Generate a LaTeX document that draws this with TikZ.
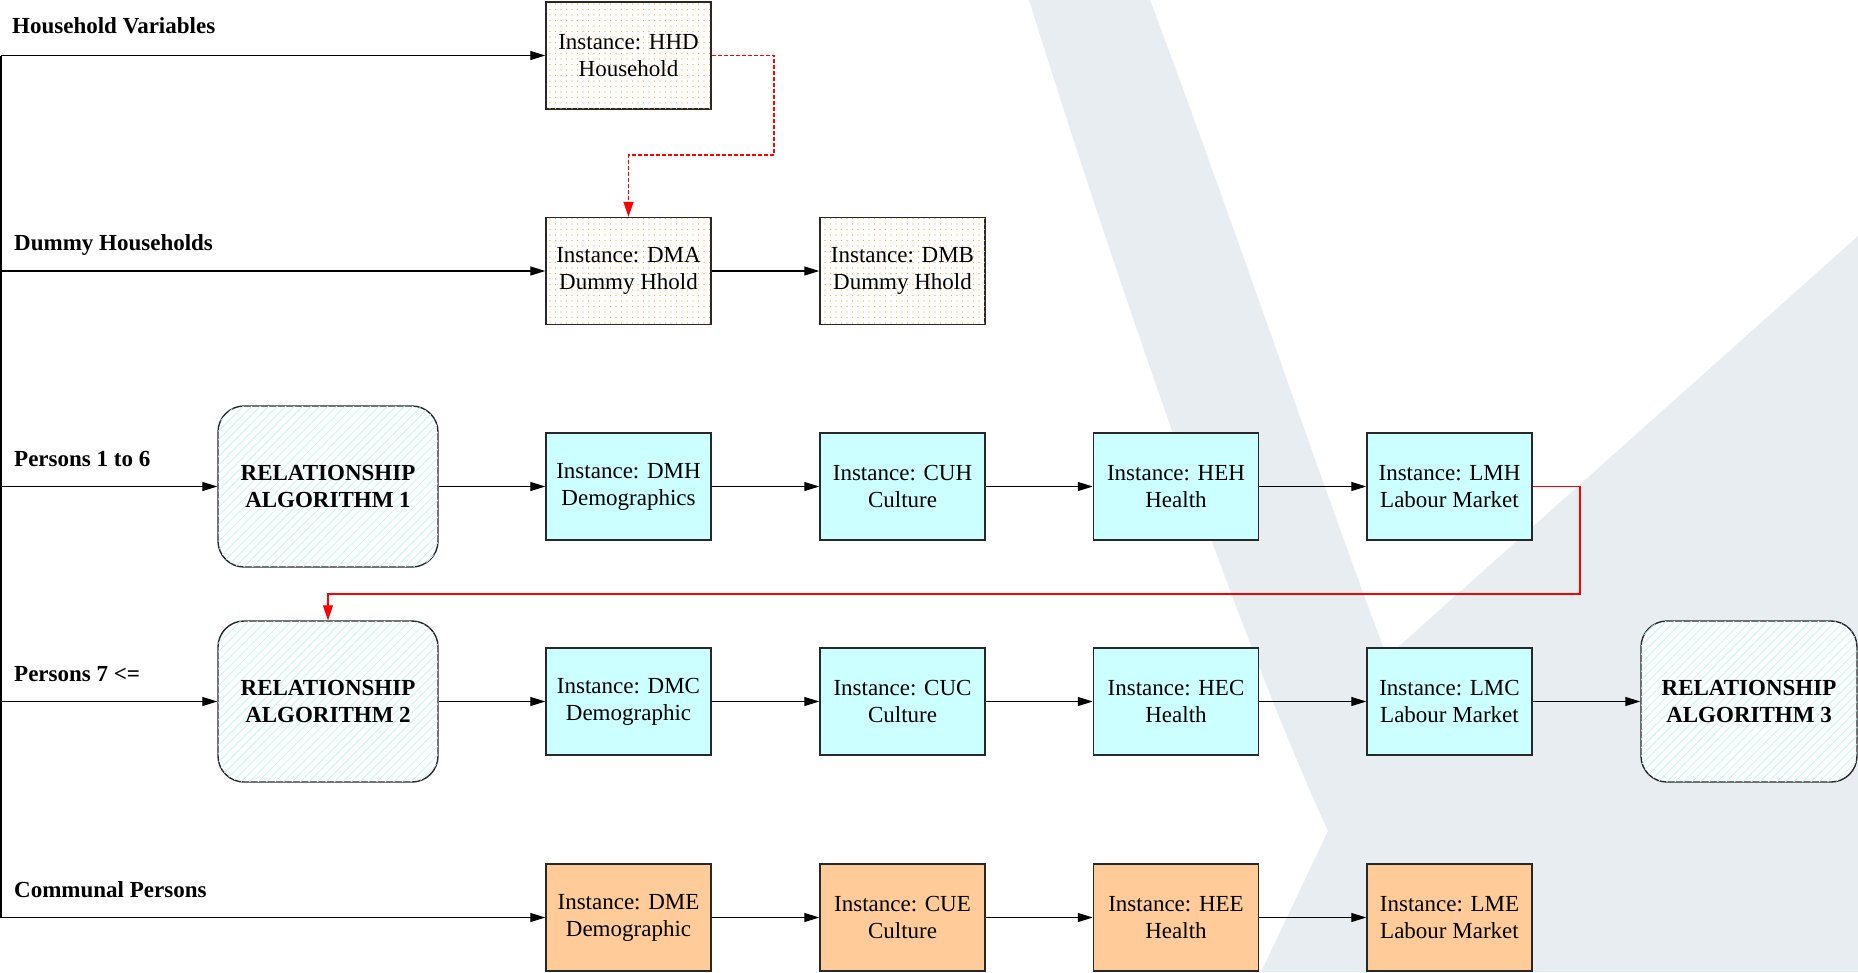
\documentclass[tikz,border=0pt]{standalone}
\usepackage{fontspec}
\setmainfont{Liberation Serif}
\usetikzlibrary{arrows.meta,patterns.meta}
\definecolor{wm}{RGB}{232,237,242}
\definecolor{boxcyan}{RGB}{204,255,255}
\definecolor{boxorange}{RGB}{255,204,153}
\definecolor{dotorange}{RGB}{252,165,30}
\definecolor{hatchcyan}{RGB}{195,246,246}
\definecolor{edgegray}{RGB}{40,40,40}
\begin{document}
\begin{tikzpicture}[x=1pt,y=-1pt,
  inst/.style={draw=edgegray, line width=1.4pt, minimum width=165pt, minimum height=107pt,
    inner sep=0pt, align=center, font=\fontsize{23}{27}\selectfont},
  cyanbox/.style={inst, fill=boxcyan},
  orangebox/.style={inst, fill=boxorange},
  dotbox/.style={inst, fill=white, postaction={pattern={Dots[distance=5.5pt,radius=0.7pt]}, pattern color=dotorange}},
  algbox/.style={draw=edgegray, line width=1.4pt, rounded corners=26pt, minimum width=220pt,
    minimum height=161pt, inner sep=0pt, align=center, font=\bfseries\fontsize{23}{27}\selectfont,
    fill=white, postaction={pattern={Lines[angle=45,distance=6pt,line width=0.8pt]}, pattern color=hatchcyan}},
  conn/.style={line width=1.2pt, draw=black, -{Triangle[length=15pt,width=9pt]}},
  redline/.style={line width=1.2pt, draw=red, -{Triangle[length=15pt,width=10pt]}},
  reddash/.style={line width=1.3pt, draw=red, dash pattern=on 4pt off 2pt, -{Triangle[length=15pt,width=10pt]}},
  rowlabel/.style={anchor=base west, font=\bfseries\fontsize{23}{27}\selectfont, inner sep=0pt}
]
\useasboundingbox (0,0) rectangle (1858,972);
\fill[white] (0,0) rectangle (1858,972);
% watermark
\fill[wm] (1029,0) -- (1150,0) .. controls (1240,240) and (1320,480) .. (1387,657)
  -- (1858,236) -- (1858,972) -- (1261,972) -- (1328,831)
  .. controls (1240,640) and (1110,260) .. (1029,0) -- cycle;

% row labels
\node[rowlabel] (lab1) at (12,33) {Household Variables};
\node[rowlabel] (lab2) at (14,250) {Dummy Households};
\node[rowlabel] (lab3) at (14,466) {Persons 1 to 6};
\node[rowlabel] (lab4) at (14,681) {Persons 7 <=};
\node[rowlabel] (lab5) at (14,897) {Communal Persons};

% nodes
\node[dotbox] (hhd) at (628.5,55.5) {Instance: HHD\\Household};
\node[dotbox] (dma) at (628.5,271) {Instance: DMA\\Dummy Hhold};
\node[dotbox] (dmb) at (902.5,271) {Instance: DMB\\Dummy Hhold};

\node[algbox] (ra1) at (328,486.5) {RELATIONSHIP\\ALGORITHM 1};
\node[cyanbox] (dmh) at (628.5,486.5) {Instance: DMH\\Demographics};
\node[cyanbox] (cuh) at (902.5,486.5) {Instance: CUH\\Culture};
\node[cyanbox] (heh) at (1176,486.5) {Instance: HEH\\Health};
\node[cyanbox] (lmh) at (1449.5,486.5) {Instance: LMH\\Labour Market};

\node[algbox] (ra2) at (328,701.5) {RELATIONSHIP\\ALGORITHM 2};
\node[cyanbox] (dmc) at (628.5,701.5) {Instance: DMC\\Demographic};
\node[cyanbox] (cuc) at (902.5,701.5) {Instance: CUC\\Culture};
\node[cyanbox] (hec) at (1176,701.5) {Instance: HEC\\Health};
\node[cyanbox] (lmc) at (1449.5,701.5) {Instance: LMC\\Labour Market};
\node[algbox, minimum width=216pt] (ra3) at (1749,701.5) {RELATIONSHIP\\ALGORITHM 3};

\node[orangebox] (dme) at (628.5,917.5) {Instance: DME\\Demographic};
\node[orangebox] (cue) at (902.5,917.5) {Instance: CUE\\Culture};
\node[orangebox] (hee) at (1176,917.5) {Instance: HEE\\Health};
\node[orangebox] (lme) at (1449.5,917.5) {Instance: LME\\Labour Market};

% left bus
\coordinate (l1) at (1,55.5);
\coordinate (l2) at (1,271);
\coordinate (l3) at (1,486.5);
\coordinate (l4) at (1,701.5);
\coordinate (l5) at (1,917.5);
\draw[line width=1.2pt] (l1) -- (l5);
\draw[conn] (l1) -- (hhd.west);
\draw[conn] (l2) -- (dma.west);
\draw[conn] (l3) -- (ra1.west);
\draw[conn] (l4) -- (ra2.west);
\draw[conn] (l5) -- (dme.west);

% row connectors
\draw[conn] (dma) -- (dmb);
\draw[conn] (ra1) -- (dmh);
\draw[conn] (dmh) -- (cuh);
\draw[conn] (cuh) -- (heh);
\draw[conn] (heh) -- (lmh);
\draw[conn] (ra2) -- (dmc);
\draw[conn] (dmc) -- (cuc);
\draw[conn] (cuc) -- (hec);
\draw[conn] (hec) -- (lmc);
\draw[conn] (lmc) -- (ra3);
\draw[conn] (dme) -- (cue);
\draw[conn] (cue) -- (hee);
\draw[conn] (hee) -- (lme);

% red links
\coordinate (d1) at (774,155);
\draw[reddash] (hhd.east) -| (d1) -| (dma.north);
\coordinate (r1) at (1580,594);
\draw[redline] (lmh.east) -| (r1) -| (ra2.north);
\end{tikzpicture}
\end{document}
